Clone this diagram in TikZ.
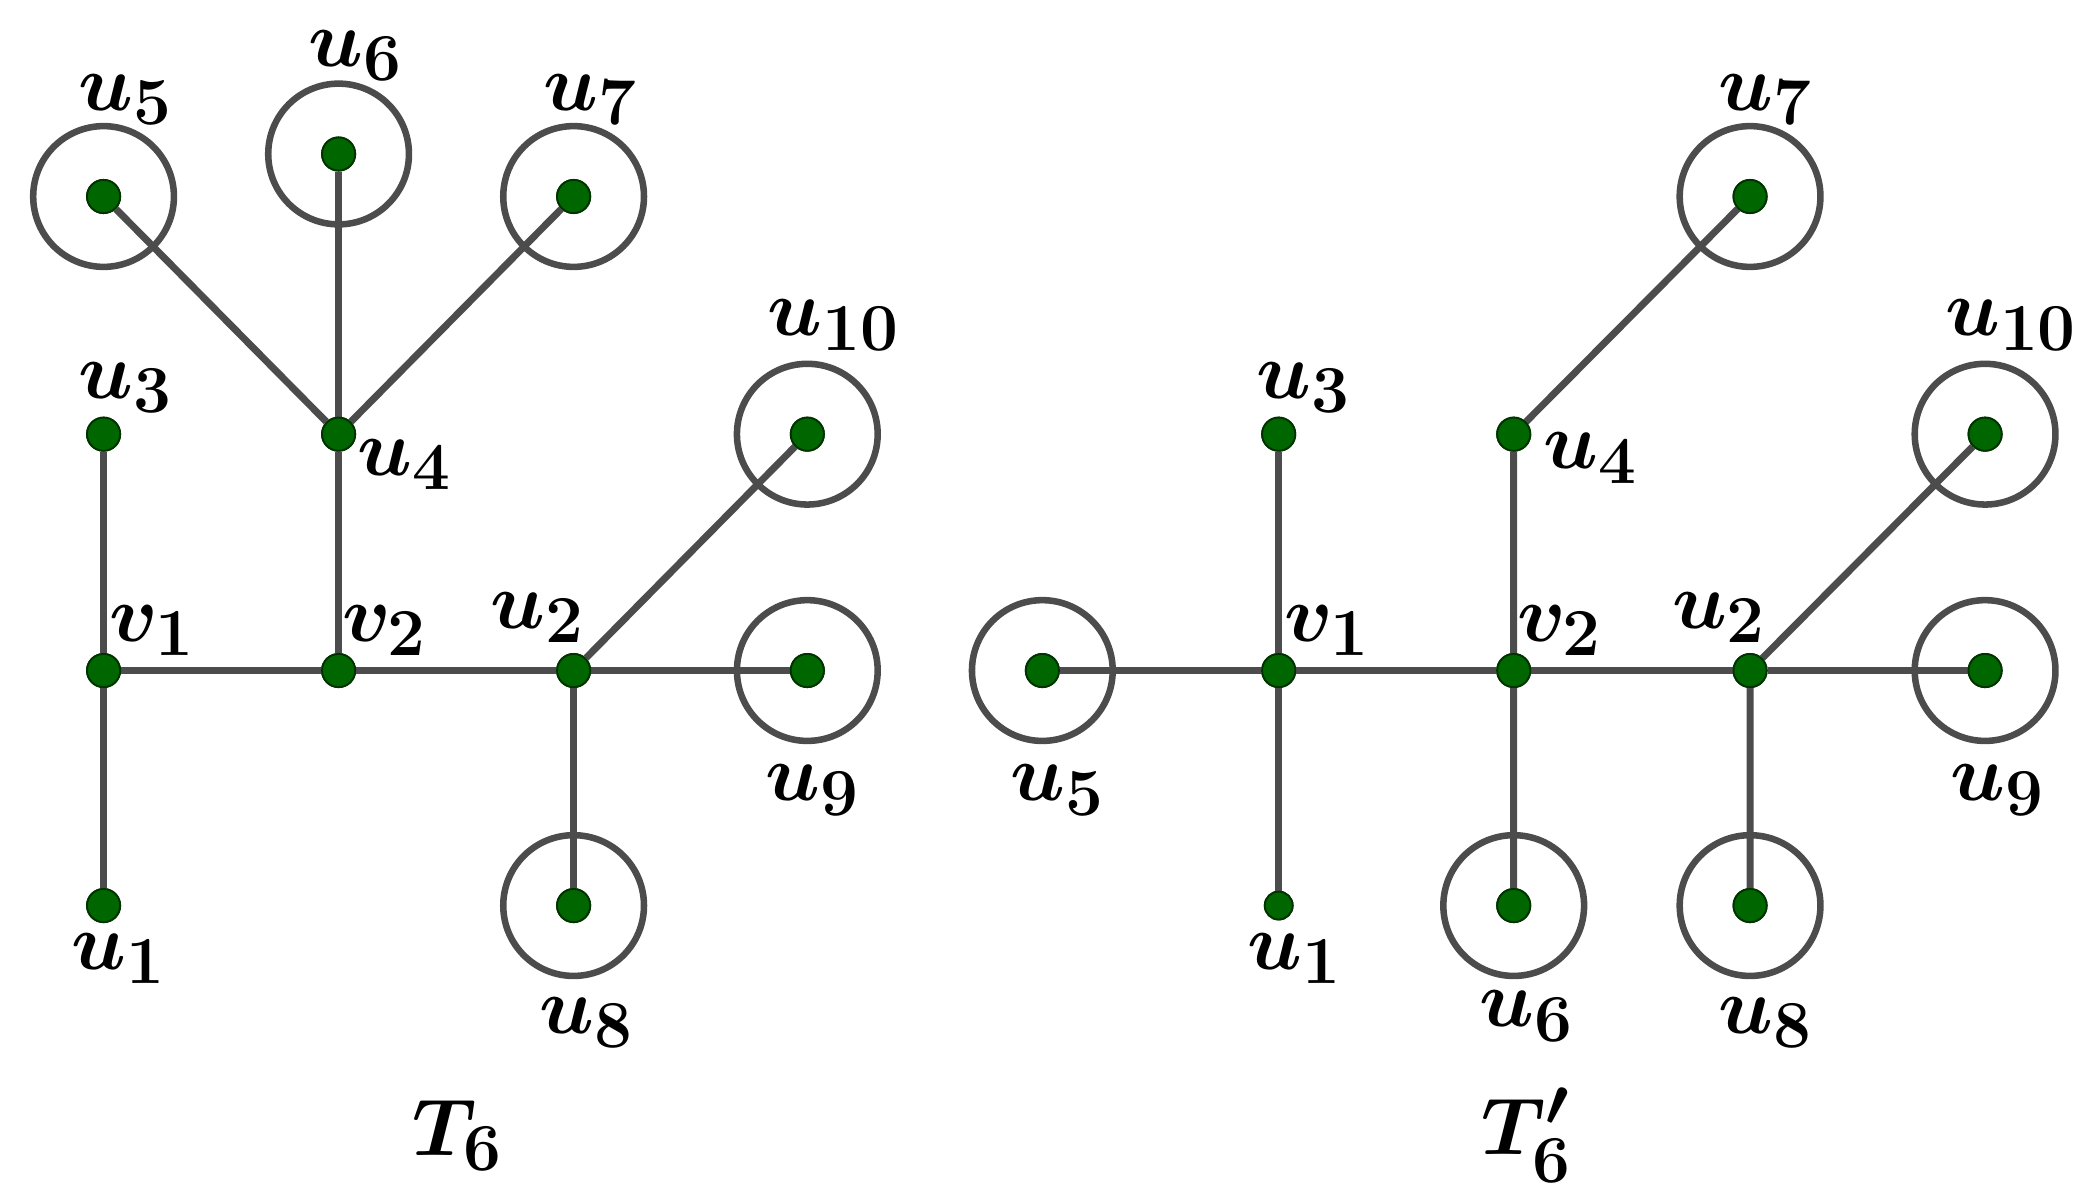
\documentclass[tikz,border=0pt]{standalone}
\usepackage{amsfonts, amsmath, amssymb}
\usepackage{tikz}
\begin{document}
\begin{tikzpicture}[
    vert/.style={circle, fill=green!40!black, draw=green!20!black, inner sep=0pt, minimum size=0.25cm},
    ring/.style={circle, draw=black!70, line width=1.4pt, minimum size=1.06cm, inner sep=0pt},
    edge/.style={draw=black!70, line width=1.5pt},
    lab/.style={inner sep=0pt, font=\fontsize{19}{22}\selectfont\boldmath}
]
        \useasboundingbox (0,0) rectangle (15.68,8.98);

        % left tree T6
        \node[vert] (a1) at (0.78,2.16) {};
        \node[vert] (a3) at (0.78,5.71) {};
        \node[vert] (av1) at (0.78,3.93) {};
        \node[vert] (av2) at (2.55,3.93) {};
        \node[vert] (a2) at (4.32,3.93) {};
        \node[vert] (a4) at (2.55,5.71) {};
        \node[vert] (a5) at (0.78,7.50) {};
        \node[vert] (a6) at (2.55,7.82) {};
        \node[vert] (a7) at (4.32,7.50) {};
        \node[vert] (a8) at (4.32,2.16) {};
        \node[vert] (a9) at (6.08,3.93) {};
        \node[vert] (a10) at (6.08,5.71) {};

        \foreach \n in {a5,a6,a7,a8,a9,a10}
            \node[ring] at (\n) {};

        \draw[edge] (a1) -- (av1) -- (a3);
        \draw[edge] (av1) -- (av2) -- (a2) -- (a9);
        \draw[edge] (av2) -- (a4);
        \draw[edge] (a4) -- (a5);
        \draw[edge] (a4) -- (a6);
        \draw[edge] (a4) -- (a7);
        \draw[edge] (a2) -- (a8);
        \draw[edge] (a2) -- (a10);
        \foreach \n in {a1,a2,a3,a4,a5,a6,a7,a8,a9,a10,av1,av2}
            \node[vert] at (\n) {};

        \node[lab] at (0.95,8.23) {$u_5$};
        \node[lab] at (2.68,8.56) {$u_6$};
        \node[lab] at (4.45,8.23) {$u_7$};
        \node[lab] at (0.95,6.06) {$u_3$};
        \node[lab] at (3.05,5.48) {$u_4$};
        \node[lab] at (1.15,4.23) {$v_1$};
        \node[lab] at (2.90,4.23) {$v_2$};
        \node[lab] at (4.05,4.33) {$u_2$};
        \node[lab] at (6.28,6.53) {$u_{10}$};
        \node[lab] at (6.12,3.03) {$u_9$};
        \node[lab] at (4.42,1.28) {$u_8$};
        \node[lab] at (0.90,1.76) {$u_1$};
        \node[lab] at (3.45,0.43) {$T_6$};

        % right tree T6'
        \node[vert] (b5) at (7.85,3.93) {};
        \node[vert] (bv1) at (9.63,3.93) {};
        \node[vert] (bv2) at (11.40,3.93) {};
        \node[vert] (b2) at (13.18,3.93) {};
        \node[vert] (b9) at (14.95,3.93) {};
        \node[vert] (b10) at (14.95,5.71) {};
        \node[vert] (b8) at (13.18,2.16) {};
        \node[vert] (b6) at (11.40,2.16) {};
        \node[vert, minimum size=0.21cm] (b1) at (9.63,2.16) {};
        \node[vert] (b3) at (9.63,5.71) {};
        \node[vert] (b4) at (11.40,5.71) {};
        \node[vert] (b7) at (13.18,7.50) {};

        \foreach \n in {b5,b6,b7,b8,b9,b10}
            \node[ring] at (\n) {};

        \draw[edge] (b5) -- (bv1) -- (bv2) -- (b2) -- (b9);
        \draw[edge] (b1) -- (bv1) -- (b3);
        \draw[edge] (b6) -- (bv2) -- (b4) -- (b7);
        \draw[edge] (b8) -- (b2) -- (b10);
        \foreach \n in {b2,b3,b4,b5,b6,b7,b8,b9,b10,bv1,bv2}
            \node[vert] at (\n) {};
        \node[vert, minimum size=0.21cm] at (b1) {};

        \node[lab] at (13.30,8.23) {$u_7$};
        \node[lab] at (9.82,6.06) {$u_3$};
        \node[lab] at (11.98,5.53) {$u_4$};
        \node[lab] at (10.00,4.23) {$v_1$};
        \node[lab] at (11.75,4.23) {$v_2$};
        \node[lab] at (12.95,4.33) {$u_2$};
        \node[lab] at (15.15,6.53) {$u_{10}$};
        \node[lab] at (15.05,3.03) {$u_9$};
        \node[lab] at (13.30,1.28) {$u_8$};
        \node[lab] at (11.50,1.33) {$u_6$};
        \node[lab] at (9.75,1.76) {$u_1$};
        \node[lab] at (7.97,3.03) {$u_5$};
        \node[lab] at (11.50,0.43) {$T_6'$};
\end{tikzpicture}
\end{document}
